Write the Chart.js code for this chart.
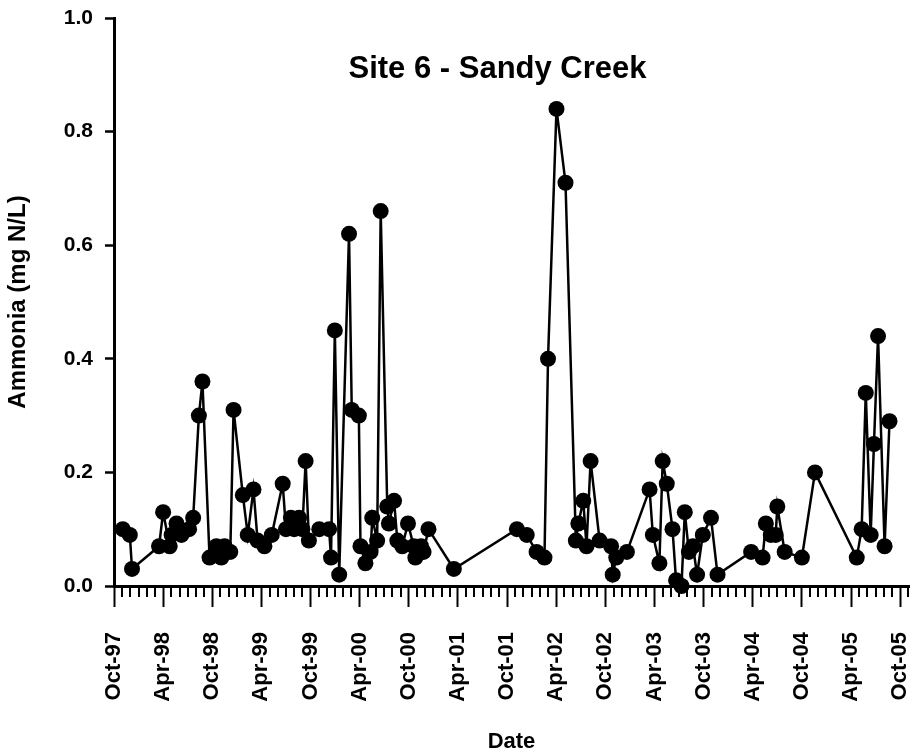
<!DOCTYPE html>
<html>
<head>
<meta charset="utf-8">
<script src="https://cdn.jsdelivr.net/npm/chart.js@4.4.1/dist/chart.umd.min.js"></script>
<style>
  html, body { margin: 0; padding: 0; background: #fff; }
</style>
</head>
<body>
<canvas id="chart" width="917" height="756"></canvas>
<script>
const chartTitle = 'Site 6 - Sandy Creek';
const xTitle = 'Date';
const yTitle = 'Ammonia (mg N/L)';

// one label every 6 months, starting Oct-97
const tickLabels = [
  'Oct-97', 'Apr-98', 'Oct-98', 'Apr-99', 'Oct-99', 'Apr-00', 'Oct-00', 'Apr-01', 'Oct-01',
  'Apr-02', 'Oct-02', 'Apr-03', 'Oct-03', 'Apr-04', 'Oct-04', 'Apr-05', 'Oct-05',
];
const yTicks = [0, 0.2, 0.4, 0.6, 0.8, 1.0];

const sampleDates = [
  '1997-11-03', '1997-11-29', '1997-12-07', '1998-03-16', '1998-04-01', '1998-04-25',
  '1998-05-02', '1998-05-20', '1998-06-08', '1998-07-06', '1998-07-21', '1998-08-12',
  '1998-08-25', '1998-09-21', '1998-10-16', '1998-11-04', '1998-11-16', '1998-12-07',
  '1998-12-19', '1999-01-23', '1999-02-11', '1999-03-02', '1999-03-17', '1999-04-12',
  '1999-05-09', '1999-06-19', '1999-07-01', '1999-07-19', '1999-08-01', '1999-08-19',
  '1999-09-01', '1999-09-13', '1999-09-25', '1999-11-03', '1999-12-09', '1999-12-16',
  '1999-12-30', '2000-01-16', '2000-02-22', '2000-03-02', '2000-03-28', '2000-04-04',
  '2000-04-22', '2000-05-11', '2000-05-17', '2000-06-05', '2000-06-18', '2000-07-12',
  '2000-07-18', '2000-08-07', '2000-08-19', '2000-09-07', '2000-09-28', '2000-10-19',
  '2000-10-25', '2000-11-16', '2000-11-25', '2000-12-13', '2001-03-16', '2001-11-07',
  '2001-12-13', '2002-01-19', '2002-02-18', '2002-03-01', '2002-04-02', '2002-05-05',
  '2002-06-13', '2002-06-22', '2002-07-10', '2002-07-22', '2002-08-07', '2002-09-10',
  '2002-10-22', '2002-10-28', '2002-11-11', '2002-12-20', '2003-03-13', '2003-03-25',
  '2003-04-19', '2003-05-01', '2003-05-16', '2003-06-07', '2003-06-20', '2003-07-10',
  '2003-07-22', '2003-08-07', '2003-08-22', '2003-09-07', '2003-09-28', '2003-10-28',
  '2003-11-22', '2004-03-25', '2004-05-07', '2004-05-19', '2004-06-07', '2004-06-25',
  '2004-07-01', '2004-07-28', '2004-10-01', '2004-11-19', '2005-04-22', '2005-05-10',
  '2005-05-25', '2005-06-13', '2005-06-25', '2005-07-10', '2005-08-04', '2005-08-22',
];
const ammonia = [
  0.10, 0.09, 0.03, 0.07, 0.13, 0.07,
  0.09, 0.11, 0.09, 0.10, 0.12, 0.30,
  0.36, 0.05, 0.07, 0.05, 0.07, 0.06,
  0.31, 0.16, 0.09, 0.17, 0.08, 0.07,
  0.09, 0.18, 0.10, 0.12, 0.10, 0.12,
  0.10, 0.22, 0.08, 0.10, 0.10, 0.05,
  0.45, 0.02, 0.62, 0.31, 0.30, 0.07,
  0.04, 0.06, 0.12, 0.08, 0.66, 0.14,
  0.11, 0.15, 0.08, 0.07, 0.11, 0.07,
  0.05, 0.07, 0.06, 0.10, 0.03, 0.10,
  0.09, 0.06, 0.05, 0.40, 0.84, 0.71,
  0.08, 0.11, 0.15, 0.07, 0.22, 0.08,
  0.07, 0.02, 0.05, 0.06, 0.17, 0.09,
  0.04, 0.22, 0.18, 0.10, 0.01, 0.00,
  0.13, 0.06, 0.07, 0.02, 0.09, 0.12,
  0.02, 0.06, 0.05, 0.11, 0.09, 0.09,
  0.14, 0.06, 0.05, 0.20, 0.05, 0.10,
  0.34, 0.09, 0.25, 0.44, 0.07, 0.29,
];

// months since 1 Oct 1997
const monthIndex = (d) => {
  const [y, m, day] = d.split('-').map(Number);
  return (y - 1997) * 12 + (m - 10) + (day - 1) / 30;
};

const FONT = "'Liberation Sans', Arial, sans-serif";

const minorTicks = {
  id: 'minorTicks',
  beforeDatasetsDraw(chart) {
    const xs = chart.scales.x;
    const ctx = chart.ctx;
    const y0 = chart.chartArea.bottom;
    ctx.save();
    ctx.strokeStyle = '#000';
    ctx.lineWidth = 2;
    xs.ticks.forEach((t) => {
      if (t.value % 6 === 0) return;
      const px = Math.round(xs.getPixelForValue(t.value));
      ctx.beginPath();
      ctx.moveTo(px, y0);
      ctx.lineTo(px, y0 + 11);
      ctx.stroke();
    });
    ctx.restore();
  },
};

const insideTitle = {
  id: 'insideTitle',
  afterDraw(chart) {
    const { ctx, chartArea } = chart;
    ctx.save();
    ctx.font = `bold 31px ${FONT}`;
    ctx.fillStyle = '#000';
    ctx.textAlign = 'center';
    ctx.textBaseline = 'alphabetic';
    ctx.fillText(chartTitle, (chartArea.left + chartArea.right) / 2 - 14, chartArea.top + 60);
    ctx.restore();
  },
};

new Chart(document.getElementById('chart'), {
  type: 'line',
  data: {
    datasets: [{
      data: sampleDates.map((d, i) => ({ x: monthIndex(d), y: ammonia[i] })),
      borderColor: '#000',
      backgroundColor: '#000',
      borderWidth: 2.5,
      pointRadius: 8,
      pointBackgroundColor: '#000',
      pointBorderColor: '#000',
      pointBorderWidth: 0,
      tension: 0,
      clip: false,
    }],
  },
  options: {
    responsive: false,
    animation: false,
    devicePixelRatio: 1,
    layout: { padding: { top: 18, right: 1, left: 0, bottom: 0 } },
    plugins: { legend: { display: false }, tooltip: { enabled: false } },
    scales: {
      x: {
        type: 'linear',
        min: 0,
        max: 97.08,
        afterFit: (s) => {
          s.height = 170;
          s.paddingLeft = 0;
          s.paddingRight = 0;
        },
        border: { color: '#000', width: 3 },
        grid: {
          drawOnChartArea: false,
          tickLength: 21,
          tickWidth: 2,
          tickColor: (c) => (c.tick && c.tick.value % 6 === 0 ? '#000' : 'rgba(0,0,0,0)'),
        },
        ticks: {
          stepSize: 1,
          includeBounds: false,
          autoSkip: false,
          minRotation: 90,
          maxRotation: 90,
          padding: 25,
          color: '#000',
          font: { family: FONT, size: 22, weight: 'bold' },
          callback: (v) => (v % 6 === 0 ? tickLabels[v / 6] : ''),
        },
        title: {
          display: true,
          text: xTitle,
          color: '#000',
          font: { family: FONT, size: 22, weight: 'bold' },
          padding: { top: 0, bottom: 1 },
        },
      },
      y: {
        min: 0,
        max: 1,
        afterFit: (s) => {
          s.width = 114;
          s.paddingTop = 0;
          s.paddingBottom = 0;
        },
        afterBuildTicks: (s) => { s.ticks = yTicks.map((v) => ({ value: v })); },
        border: { color: '#000', width: 3 },
        grid: { drawOnChartArea: false, tickLength: 9, tickWidth: 2.5, tickColor: '#000' },
        ticks: {
          padding: 12,
          color: '#000',
          font: { family: FONT, size: 21, weight: 'bold' },
          callback: (v) => v.toFixed(1),
        },
        title: {
          display: true,
          text: yTitle,
          color: '#000',
          font: { family: FONT, size: 24, weight: 'bold' },
          padding: { top: 4, bottom: 0 },
        },
      },
    },
  },
  plugins: [minorTicks, insideTitle],
});
</script>
</body>
</html>
